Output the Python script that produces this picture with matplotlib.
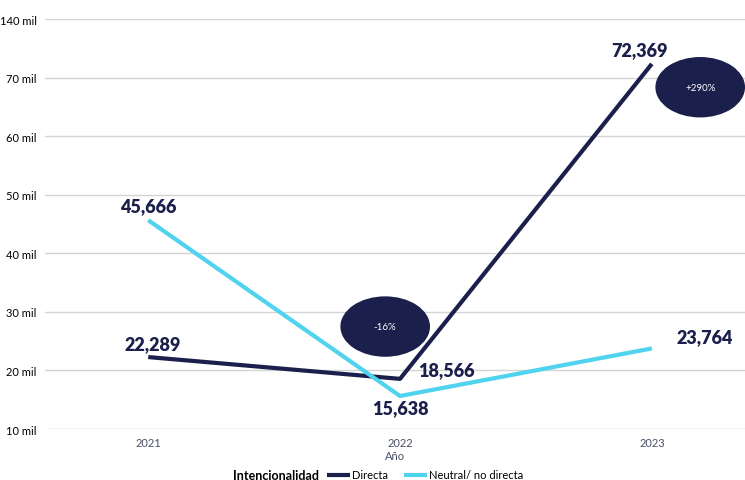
import matplotlib.pyplot as plt
from matplotlib.patches import Ellipse

years = ["2021", "2022", "2023"]
directa = [22289, 18566, 72369]
neutral = [45666, 15638, 23764]
ytick_vals = [10, 20, 30, 40, 50, 60, 70, 80]
ytick_labels = ["10 mil", "20 mil", "30 mil", "40 mil", "50 mil", "60 mil", "70 mil", "140 mil"]
changes = ["-16%", "+290%"]

navy = "#1a1f4b"
cyan = "#4fd3ee"

plt.rcParams['font.family'] = ['Lato', 'DejaVu Sans']

fig = plt.figure(figsize=(7.45, 4.81), dpi=100)
ax = fig.add_axes([0.0604, 0.106, 0.9396, 0.852])

x = list(range(len(years)))
d = [v / 1000 for v in directa]
n = [v / 1000 for v in neutral]
ax.plot(x, d, color=navy, lw=3, solid_capstyle='butt', label="Directa", zorder=3)
ax.plot(x, n, color=cyan, lw=3, solid_capstyle='butt', label="Neutral/ no directa", zorder=3)

# data labels (offsets in points, text centred vertically)
offsets_d = [(3, 9.4, 'center'), (13, 6.5, 'left'), (-8.6, 10, 'center')]
offsets_n = [(0, 10.8, 'center'), (0, -8, 'center'), (18, 8.6, 'left')]
for xi, yi, v, (dx, dy, ha) in zip(x, d, directa, offsets_d):
    ax.annotate(f"{v:,}", (xi, yi), xytext=(dx, dy), textcoords='offset points',
                ha=ha, va='center', fontsize=13, fontweight='heavy', color=navy, zorder=5)
for xi, yi, v, (dx, dy, ha) in zip(x, n, neutral, offsets_n):
    ax.annotate(f"{v:,}", (xi, yi), xytext=(dx, dy), textcoords='offset points',
                ha=ha, va='center', fontsize=13, fontweight='heavy', color=navy, zorder=5)

# change bubbles
for (cx, cy), txt in zip([(0.486, 0.250), (0.936, 0.834)], changes):
    ax.add_patch(Ellipse((cx, cy), 0.126, 0.144, transform=ax.transAxes,
                         color=navy, zorder=4, clip_on=False))
    ax.text(cx, cy, txt, transform=ax.transAxes, ha='center', va='center',
            color='white', fontsize=7, zorder=6)

ax.set_xlim(-0.41, 2.37)
ax.set_ylim(10, 80)
ax.set_yticks(ytick_vals)
ax.set_yticklabels(ytick_labels, fontsize=8)
ax.set_xticks(x)
ax.set_xticklabels(years, fontsize=8, color="#4a4e66")
ax.tick_params(axis='both', length=0)
ax.tick_params(axis='y', pad=6)
ax.tick_params(axis='x', pad=6)
ax.grid(axis='y', color="#d4d4d4", lw=1)
ax.set_axisbelow(True)
for s in ax.spines.values():
    s.set_visible(False)
ax.set_xlabel("Año", fontsize=8, color="#4a4e66", labelpad=1)

fig.text(233 / 745, 5 / 481, "Intencionalidad", fontsize=9, fontweight='bold',
         ha='left', va='center')
fig.legend(loc='center left', bbox_to_anchor=(327 / 745, 5 / 481), ncol=2, frameon=False,
           fontsize=8, handlelength=2.1, handletextpad=0.15, columnspacing=1.4,
           borderpad=0, borderaxespad=0)

fig.savefig("out.png", dpi=100)
